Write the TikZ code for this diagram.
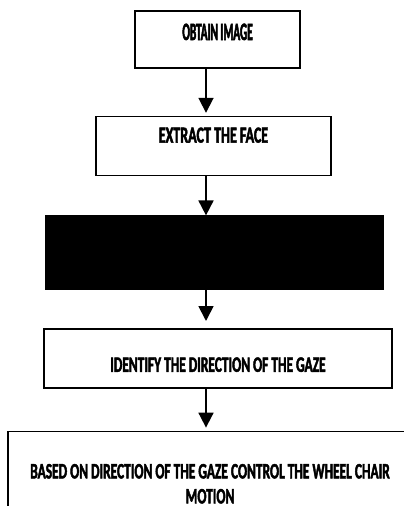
\documentclass[tikz,border=0pt]{standalone}
\usepackage{fontspec}
\newfontfamily\flowfont{Carlito}[FakeStretch=0.61, FakeBold=2]
\newfontfamily\tightfont{Carlito}[FakeStretch=0.45, FakeBold=2]
\usetikzlibrary{positioning,arrows.meta}

\tikzset{
  flowbox/.style={draw, line width=1.6pt, inner xsep=0pt, inner ysep=0pt, align=center},
  flowarrow/.style={line width=1.8pt, -{Triangle[width=15pt,length=15pt]}},
}

\begin{document}
\begin{tikzpicture}[x=1pt,y=-1pt]
	\useasboundingbox (0,0) rectangle (404,506);
	\clip (0,0) rectangle (404,506);
	%% boxes
	\node[flowbox, minimum width=165pt, text height=29pt, text depth=28pt,
		font=\tightfont\bfseries\fontsize{25pt}{28pt}\selectfont] (obtain) at (217.5,39.5) {OBTAIN IMAGE};
	\node[flowbox, below =47pt of obtain, xshift=-4pt, minimum width=235pt, text height=26pt, text depth=33pt,
		font=\flowfont\bfseries\fontsize{23pt}{26pt}\selectfont] (extract) {EXTRACT THE FACE};
	\node[flowbox, fill=black, below =39pt of extract, xshift=1pt, minimum width=337pt, minimum height=73pt] (masked) {};
	\node[flowbox, below =38pt of masked, xshift=3.5pt, minimum width=348pt, text height=43pt, text depth=16pt,
		font=\flowfont\bfseries\fontsize{22pt}{25pt}\selectfont] (identify) {IDENTIFY THE DIRECTION OF THE GAZE};
	% last box runs off the page: only its top and left side show
	\node[flowbox, draw=none, below =43pt of identify, xshift=-8pt, minimum width=402pt, minimum height=80pt, text height=66pt, text depth=4pt,
		font=\flowfont\bfseries\fontsize{22pt}{25pt}\selectfont] (control)
		{BASED ON DIRECTION OF THE GAZE CONTROL THE WHEEL CHAIR\\MOTION};
	\draw[line width=1.6pt] (control.south west) -- (control.north west) -- (control.north east);
	%% arrows
	\coordinate (axis) at (206,0);
	\draw[flowarrow, shorten >=3pt] (obtain.south -| axis) -- (extract.north -| axis);
	\draw[flowarrow] (extract.south -| axis) -- (masked.north -| axis);
	\draw[flowarrow, shorten >=7pt] (masked.south -| axis) -- (identify.north -| axis);
	\draw[flowarrow, shorten >=4pt] (identify.south -| axis) -- (control.north -| axis);
\end{tikzpicture}
\end{document}
